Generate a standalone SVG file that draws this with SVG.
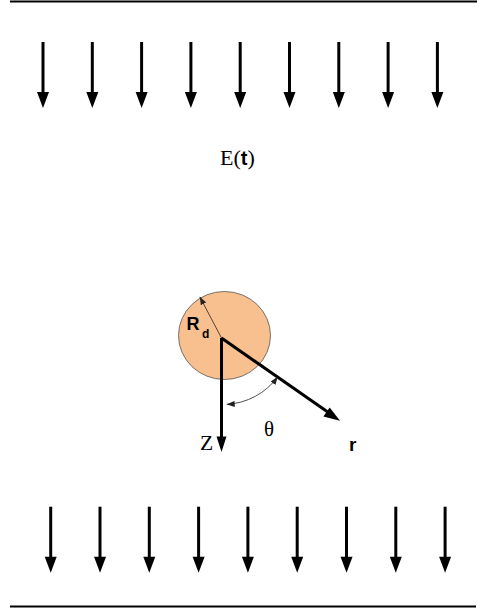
<svg xmlns="http://www.w3.org/2000/svg" xmlns:xlink="http://www.w3.org/1999/xlink" width="477" height="613" viewBox="0 0 477 613">
<style>
.rule{stroke:#000;stroke-width:2;fill:none}
.shaft{stroke:#000;stroke-width:3;fill:none}
.head{fill:#000;stroke:none}
.thin{stroke:#222;stroke-width:0.8;fill:none}
.serif{font-family:"Liberation Serif","Times New Roman",serif;fill:#000}
.sans{font-family:"Liberation Sans",Arial,sans-serif;font-weight:bold;fill:#000}
</style>
<defs>
<g id="downArrow">
<line class="shaft" x1="0" y1="42" x2="0" y2="94"/>
<polygon class="head" points="-6,92 6,92 0,108"/>
</g>
<marker id="small" viewBox="0 0 8 6" refX="8" refY="3" markerWidth="8" markerHeight="6" markerUnits="userSpaceOnUse" orient="auto-start-reverse">
<path d="M0,0 L8,3 L0,6 z" fill="#222"/>
</marker>
</defs>
<rect width="477" height="613" fill="#fff"/>
<g id="boundaries">
<line class="rule" x1="10" y1="1.5" x2="477" y2="1.5"/>
<line class="rule" x1="10" y1="606.5" x2="476" y2="606.5"/>
</g>
<g id="field-top">
<use xlink:href="#downArrow" x="43"/>
<use xlink:href="#downArrow" x="92.3"/>
<use xlink:href="#downArrow" x="141.6"/>
<use xlink:href="#downArrow" x="190.9"/>
<use xlink:href="#downArrow" x="240.2"/>
<use xlink:href="#downArrow" x="289.5"/>
<use xlink:href="#downArrow" x="338.8"/>
<use xlink:href="#downArrow" x="388.1"/>
<use xlink:href="#downArrow" x="437.4"/>
</g>
<g id="field-bottom">
<use xlink:href="#downArrow" x="50.7" y="464.7"/>
<use xlink:href="#downArrow" x="100" y="464.7"/>
<use xlink:href="#downArrow" x="149.3" y="464.7"/>
<use xlink:href="#downArrow" x="198.6" y="464.7"/>
<use xlink:href="#downArrow" x="247.9" y="464.7"/>
<use xlink:href="#downArrow" x="297.2" y="464.7"/>
<use xlink:href="#downArrow" x="346.5" y="464.7"/>
<use xlink:href="#downArrow" x="395.8" y="464.7"/>
<use xlink:href="#downArrow" x="445.1" y="464.7"/>
</g>
<g id="label-E">
<text class="serif" x="220" y="165" font-size="22">E(<tspan class="sans" font-size="20">t</tspan>)</text>
</g>
<g id="droplet">
<ellipse cx="224.5" cy="335.5" rx="46" ry="44" fill="#F9C08F" stroke="#555" stroke-width="0.8"/>
<text class="sans" x="186.5" y="330" font-size="18">R</text>
<text class="sans" x="202" y="337.5" font-size="12">d</text>
</g>
<g id="connectors">
<line class="thin" x1="221.5" y1="338" x2="199.8" y2="296.8" marker-end="url(#small)"/>
<line class="shaft" x1="221.5" y1="338" x2="221.5" y2="438"/>
<polygon class="head" points="216.5,436.5 226.5,436.5 221.5,452"/>
<line class="shaft" x1="221.5" y1="338" x2="328.5" y2="412.6"/>
<polygon class="head" points="340,420.7 323.4,416.4 329.7,407.4"/>
<path class="thin" d="M277.7,376.7 A67,67 0 0 1 226.7,404.3" marker-start="url(#small)" marker-end="url(#small)"/>
</g>
<g id="labels">
<text class="serif" x="200" y="450" font-size="21.5">Z</text>
<text class="serif" x="264" y="436" font-size="21">θ</text>
<text class="sans" x="349" y="450.5" font-size="19">r</text>
</g>
</svg>
